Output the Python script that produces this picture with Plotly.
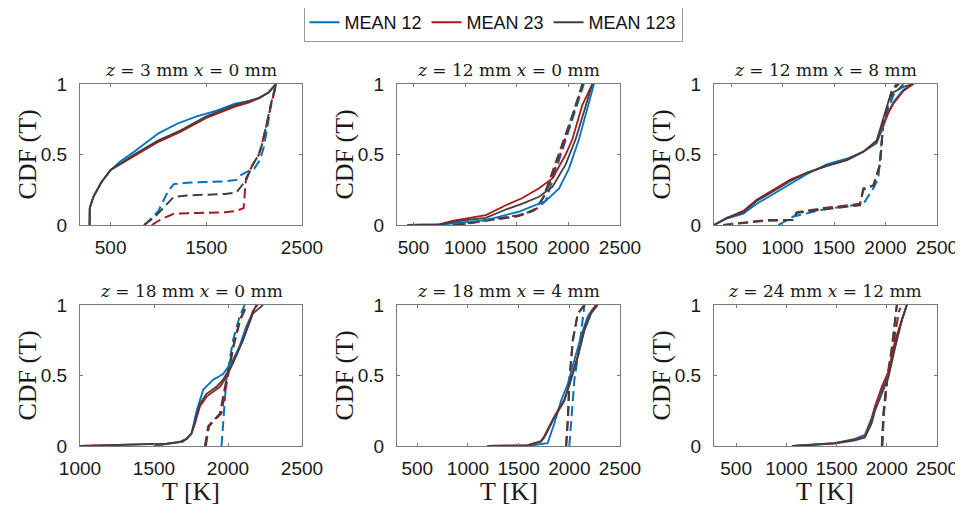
import plotly.graph_objects as go

# ---------------- data ----------------
SERIES = ["MEAN 12", "MEAN 23", "MEAN 123"]
TITLES = [
    "<i>z</i> = 3 mm <i>x</i> = 0 mm",
    "<i>z</i> = 12 mm <i>x</i> = 0 mm",
    "<i>z</i> = 12 mm <i>x</i> = 8 mm",
    "<i>z</i> = 18 mm <i>x</i> = 0 mm",
    "<i>z</i> = 18 mm <i>x</i> = 4 mm",
    "<i>z</i> = 24 mm <i>x</i> = 12 mm",
]
XRANGES = [[180, 2500], [340, 2500], [335, 2500], [1000, 2500], [300, 2500], [280, 2500]]
XTICKS = [[500, 1500, 2500], [500, 1000, 1500, 2000, 2500], [500, 1000, 1500, 2000, 2500],
          [1000, 1500, 2000, 2500], [500, 1000, 1500, 2000, 2500], [500, 1000, 1500, 2000, 2500]]
YTICKS = [0, 0.5, 1]
YTICKLABELS = ["0", "0.5", "1"]

# panel 1 : z=3 x=0
p1_blue_T = [280, 282, 320, 400, 500, 600, 745, 900, 1000, 1200, 1400, 1600, 1800, 1950, 2050, 2150, 2230]
p1_blue_F = [0, 0.12, 0.2, 0.3, 0.39, 0.45, 0.52, 0.6, 0.65, 0.72, 0.77, 0.81, 0.86, 0.88, 0.9, 0.94, 1.0]
p1_red_T = [280, 282, 320, 400, 500, 745, 1000, 1228, 1500, 1800, 1950, 2050, 2150, 2230]
p1_red_F = [0, 0.12, 0.2, 0.3, 0.39, 0.49, 0.59, 0.66, 0.76, 0.84, 0.87, 0.9, 0.94, 1.0]
p1_gray_T = [280, 282, 320, 400, 500, 745, 1000, 1228, 1500, 1800, 1950, 2050, 2150, 2230]
p1_gray_F = [0, 0.12, 0.2, 0.3, 0.39, 0.5, 0.6, 0.67, 0.77, 0.85, 0.88, 0.9, 0.94, 1.0]
p1_blue_dT = [850, 900, 1000, 1100, 1160, 1300, 1500, 1700, 1814, 1850, 1934, 2000, 2060, 2100, 2140, 2176, 2230]
p1_blue_dF = [0, 0.03, 0.1, 0.24, 0.29, 0.3, 0.305, 0.31, 0.32, 0.35, 0.38, 0.4, 0.46, 0.55, 0.7, 0.86, 1.0]
p1_red_dT = [930, 1000, 1090, 1160, 1400, 1700, 1814, 1890, 1905, 1915, 1986, 2050, 2090, 2140, 2176, 2230]
p1_red_dF = [0, 0.03, 0.06, 0.08, 0.085, 0.09, 0.1, 0.12, 0.25, 0.33, 0.43, 0.5, 0.6, 0.75, 0.86, 1.0]
p1_gray_dT = [850, 950, 1050, 1160, 1300, 1500, 1700, 1814, 1870, 1917, 1986, 2050, 2090, 2140, 2176, 2230]
p1_gray_dF = [0, 0.05, 0.12, 0.2, 0.21, 0.215, 0.22, 0.23, 0.28, 0.32, 0.43, 0.5, 0.59, 0.75, 0.86, 1.0]

# panel 2 : z=12 x=0
p2_blue_T = [680, 800, 1000, 1200, 1523, 1780, 1910, 2006, 2103, 2184, 2248]
p2_blue_F = [0, 0.005, 0.02, 0.035, 0.095, 0.17, 0.26, 0.4, 0.61, 0.83, 1.0]
p2_red_T = [440, 750, 877, 1000, 1200, 1394, 1550, 1716, 1845, 1974, 2039, 2135, 2232]
p2_red_F = [0, 0.005, 0.03, 0.045, 0.07, 0.14, 0.19, 0.26, 0.33, 0.5, 0.61, 0.85, 1.0]
p2_gray_T = [440, 750, 877, 1000, 1200, 1394, 1550, 1716, 1845, 1974, 2071, 2168, 2232]
p2_gray_F = [0, 0.004, 0.02, 0.035, 0.05, 0.11, 0.15, 0.2, 0.27, 0.43, 0.61, 0.85, 1.0]
p2_blue_dT = [900, 1000, 1200, 1500, 1700, 1780, 1830, 1920, 2040, 2150]
p2_blue_dF = [0, 0.008, 0.03, 0.06, 0.12, 0.17, 0.28, 0.48, 0.76, 1.0]
p2_red_dT = [900, 1000, 1200, 1523, 1660, 1700, 1760, 1820, 1920, 2045, 2140]
p2_red_dF = [0, 0.01, 0.03, 0.065, 0.1, 0.12, 0.2, 0.3, 0.5, 0.78, 1.0]
p2_gray_dT = [880, 1000, 1200, 1523, 1652, 1690, 1760, 1813, 1910, 2039, 2135]
p2_gray_dF = [0, 0.01, 0.035, 0.07, 0.1, 0.12, 0.2, 0.31, 0.5, 0.78, 1.0]

# panel 3 : z=12 x=8
p3_blue_T = [335, 458, 620, 749, 911, 1073, 1235, 1429, 1623, 1785, 1914, 1979, 2030, 2076, 2173, 2270]
p3_blue_F = [0, 0.045, 0.08, 0.15, 0.22, 0.29, 0.36, 0.43, 0.47, 0.52, 0.58, 0.7, 0.8, 0.87, 0.96, 1.0]
p3_red_T = [335, 458, 620, 749, 911, 1073, 1235, 1429, 1623, 1785, 1914, 1979, 2030, 2076, 2173, 2270]
p3_red_F = [0, 0.05, 0.1, 0.18, 0.25, 0.32, 0.37, 0.42, 0.46, 0.52, 0.59, 0.72, 0.8, 0.86, 0.95, 1.0]
p3_gray_T = [335, 458, 620, 749, 911, 1073, 1235, 1429, 1623, 1785, 1914, 1979, 2030, 2076, 2173, 2270]
p3_gray_F = [0, 0.05, 0.09, 0.17, 0.24, 0.31, 0.37, 0.42, 0.46, 0.52, 0.6, 0.75, 0.88, 0.94, 0.98, 1.0]
p3_blue_dT = [960, 1105, 1396, 1785, 1882, 1930, 1979, 2076, 2173]
p3_blue_dF = [0, 0.06, 0.11, 0.15, 0.26, 0.33, 0.73, 0.92, 1.0]
p3_red_dT = [425, 846, 1100, 1137, 1396, 1752, 1785, 1882, 1947, 1979, 2060, 2108]
p3_red_dF = [0, 0.035, 0.035, 0.09, 0.12, 0.15, 0.26, 0.28, 0.43, 0.73, 0.95, 1.0]
p3_gray_dT = [425, 846, 1100, 1137, 1396, 1752, 1785, 1882, 1947, 1979, 2060, 2130]
p3_gray_dF = [0, 0.03, 0.035, 0.085, 0.11, 0.14, 0.25, 0.28, 0.43, 0.73, 0.95, 1.0]

# panel 4 : z=18 x=0
p4_blue_T = [1497, 1698, 1754, 1788, 1833, 1900, 1967, 2034, 2079, 2124, 2191]
p4_blue_F = [0, 0.03, 0.09, 0.25, 0.4, 0.47, 0.51, 0.61, 0.71, 0.85, 1.0]
p4_red_T = [1000, 1587, 1676, 1721, 1754, 1777, 1810, 1855, 1945, 1990, 2034, 2101, 2169, 2200]
p4_red_F = [0, 0.017, 0.03, 0.05, 0.09, 0.16, 0.28, 0.35, 0.42, 0.49, 0.59, 0.75, 0.96, 1.0]
p4_gray_T = [1000, 1587, 1676, 1721, 1754, 1777, 1810, 1855, 1922, 1967, 2034, 2101, 2169, 2236]
p4_gray_F = [0, 0.017, 0.03, 0.05, 0.09, 0.18, 0.3, 0.37, 0.42, 0.47, 0.59, 0.75, 0.94, 1.0]
p4_blue_dT = [1956, 1970, 1989, 2034, 2079, 2113]
p4_blue_dF = [0, 0.2, 0.47, 0.75, 0.92, 1.0]
p4_red_dT = [1850, 1872, 1905, 1955, 1995, 2040, 2085, 2130]
p4_red_dF = [0, 0.14, 0.18, 0.23, 0.47, 0.72, 0.9, 1.0]
p4_gray_dT = [1844, 1866, 1900, 1945, 1989, 2034, 2079, 2124]
p4_gray_dF = [0, 0.14, 0.18, 0.23, 0.47, 0.7, 0.89, 1.0]

# panel 5 : z=18 x=4
p5_blue_T = [1588, 1786, 1852, 1918, 1984, 2050, 2116, 2182, 2260]
p5_blue_F = [0, 0.02, 0.16, 0.32, 0.44, 0.61, 0.78, 0.92, 1.0]
p5_red_T = [1192, 1588, 1720, 1753, 1852, 1951, 2017, 2083, 2149, 2215, 2270]
p5_red_F = [0, 0.006, 0.035, 0.07, 0.21, 0.33, 0.48, 0.64, 0.83, 0.95, 1.0]
p5_gray_T = [1192, 1588, 1720, 1753, 1852, 1951, 2017, 2083, 2149, 2215, 2280]
p5_gray_F = [0, 0.005, 0.03, 0.06, 0.2, 0.32, 0.47, 0.63, 0.82, 0.94, 1.0]
p5_blue_dT = [2000, 2020, 2050, 2099, 2149]
p5_blue_dF = [0, 0.2, 0.47, 0.7, 1.0]
p5_red_dT = [1970, 1988, 2003, 2036, 2085, 2150]
p5_red_dF = [0, 0.2, 0.47, 0.75, 0.94, 1.0]
p5_gray_dT = [1967, 1985, 2000, 2033, 2083, 2149]
p5_gray_dF = [0, 0.2, 0.47, 0.75, 0.94, 1.0]

# panel 6 : z=24 x=12
p6_blue_T = [1062, 1481, 1682, 1782, 1849, 1883, 1950, 2017, 2084, 2150, 2200]
p6_blue_F = [0, 0.02, 0.05, 0.08, 0.2, 0.28, 0.4, 0.5, 0.72, 0.9, 1.0]
p6_red_T = [1062, 1481, 1682, 1782, 1849, 1883, 1950, 2017, 2084, 2150, 2200]
p6_red_F = [0, 0.02, 0.045, 0.065, 0.18, 0.28, 0.42, 0.53, 0.75, 0.9, 1.0]
p6_gray_T = [1062, 1481, 1682, 1782, 1849, 1883, 1950, 2017, 2084, 2150, 2200]
p6_gray_F = [0, 0.017, 0.04, 0.06, 0.16, 0.25, 0.37, 0.49, 0.7, 0.89, 1.0]
p6_blue_dT = [1955, 1970, 2005, 2055, 2095, 2100]
p6_blue_dF = [0, 0.23, 0.47, 0.7, 0.97, 1.0]
p6_red_dT = [1955, 1970, 2005, 2060, 2120, 2135]
p6_red_dF = [0, 0.23, 0.47, 0.7, 0.95, 0.98]
p6_gray_dT = [1950, 1966, 2000, 2050, 2100]
p6_gray_dF = [0, 0.23, 0.47, 0.7, 1.0]

PANELS = [
    [(p1_blue_T, p1_blue_F, p1_blue_dT, p1_blue_dF), (p1_red_T, p1_red_F, p1_red_dT, p1_red_dF), (p1_gray_T, p1_gray_F, p1_gray_dT, p1_gray_dF)],
    [(p2_blue_T, p2_blue_F, p2_blue_dT, p2_blue_dF), (p2_red_T, p2_red_F, p2_red_dT, p2_red_dF), (p2_gray_T, p2_gray_F, p2_gray_dT, p2_gray_dF)],
    [(p3_blue_T, p3_blue_F, p3_blue_dT, p3_blue_dF), (p3_red_T, p3_red_F, p3_red_dT, p3_red_dF), (p3_gray_T, p3_gray_F, p3_gray_dT, p3_gray_dF)],
    [(p4_blue_T, p4_blue_F, p4_blue_dT, p4_blue_dF), (p4_red_T, p4_red_F, p4_red_dT, p4_red_dF), (p4_gray_T, p4_gray_F, p4_gray_dT, p4_gray_dF)],
    [(p5_blue_T, p5_blue_F, p5_blue_dT, p5_blue_dF), (p5_red_T, p5_red_F, p5_red_dT, p5_red_dF), (p5_gray_T, p5_gray_F, p5_gray_dT, p5_gray_dF)],
    [(p6_blue_T, p6_blue_F, p6_blue_dT, p6_blue_dF), (p6_red_T, p6_red_F, p6_red_dT, p6_red_dF), (p6_gray_T, p6_gray_F, p6_gray_dT, p6_gray_dF)],
]

# ---------------- style ----------------
COLORS = ["#0072BD", "#A8191C", "#404040"]
OFF = 8                      # page body margin of the html page
W, H = 963 - OFF, 512 - OFF  # figure size so that it fits the window


def px(v):
    return (v - OFF) / W


def py(v):
    return 1 - (v - OFF) / H


XDOM = [[px(80), px(302)], [px(397), px(620)], [px(714), px(937)]]
YDOM = [[py(225), py(84)], [py(446), py(305)]]
SERIF = "Liberation Serif, DejaVu Serif, serif"
TSERIF = "DejaVu Serif, Liberation Serif, serif"
SANS = "Liberation Sans, Arial, sans-serif"
AXCOL = "#7a7a7a"

fig = go.Figure()
layout = {}
annotations = []

for i in range(6):
    r, c = divmod(i, 3)
    n = i + 1
    xa = "x" if n == 1 else f"x{n}"
    ya = "y" if n == 1 else f"y{n}"
    for k in range(3):
        T, F, dT, dF = PANELS[i][k]
        fig.add_trace(go.Scatter(x=dT, y=dF, mode="lines", xaxis=xa, yaxis=ya,
                                 line=dict(color=COLORS[k], width=2, dash="10px,5px"),
                                 showlegend=False, hoverinfo="skip"))
    for k in range(3):
        T, F, dT, dF = PANELS[i][k]
        fig.add_trace(go.Scatter(x=T, y=F, mode="lines", xaxis=xa, yaxis=ya,
                                 line=dict(color=COLORS[k], width=1.8),
                                 showlegend=False, hoverinfo="skip"))
    axbase = dict(showline=True, linecolor=AXCOL, linewidth=1, mirror="ticks",
                  ticks="inside", ticklen=3, tickcolor=AXCOL, showgrid=False,
                  zeroline=False, tickfont=dict(family=SANS, size=19, color="#1a1a1a"))
    layout["xaxis" if n == 1 else f"xaxis{n}"] = dict(
        axbase, domain=XDOM[c], range=XRANGES[i], tickvals=XTICKS[i],
        ticktext=[str(v) for v in XTICKS[i]], anchor=ya, ticklabelstandoff=5)
    layout["yaxis" if n == 1 else f"yaxis{n}"] = dict(
        axbase, domain=YDOM[r], range=[0, 1], tickvals=YTICKS, ticktext=YTICKLABELS,
        anchor=xa, ticklabelstandoff=8)
    xc = (XDOM[c][0] + XDOM[c][1]) / 2
    annotations.append(dict(text=TITLES[i], x=xc, y=YDOM[r][1] + 2 / H, xref="paper", yref="paper",
                            xanchor="center", yanchor="bottom", showarrow=False,
                            font=dict(family=TSERIF, size=17, color="#1a1a1a")))
    annotations.append(dict(text="CDF (T)", x=XDOM[c][0] - 53 / W, y=(YDOM[r][0] + YDOM[r][1]) / 2,
                            xref="paper", yref="paper", xanchor="center", yanchor="middle",
                            textangle=-90, showarrow=False,
                            font=dict(family=SERIF, size=26, color="#1a1a1a")))
    if r == 1:
        annotations.append(dict(text="T [K]", x=xc, y=py(491), xref="paper", yref="paper",
                                xanchor="center", yanchor="middle", showarrow=False,
                                font=dict(family=SERIF, size=26, color="#1a1a1a")))

# legend-only entries
for k in range(3):
    fig.add_trace(go.Scatter(x=[None], y=[None], mode="lines", name=SERIES[k],
                             line=dict(color=COLORS[k], width=2), showlegend=True,
                             hoverinfo="skip"))

fig.update_layout(
    **layout,
    annotations=annotations,
    width=W, height=H,
    margin=dict(l=0, r=0, t=0, b=0, autoexpand=False),
    paper_bgcolor="white", plot_bgcolor="white",
    legend=dict(orientation="h", x=px(493), xanchor="center", y=py(3), yanchor="top",
                bordercolor="#999", borderwidth=1, bgcolor="white",
                font=dict(family=SANS, size=18, color="#111"),
                tracegroupgap=0, itemwidth=30),
)

fig.write_html("out.html")
